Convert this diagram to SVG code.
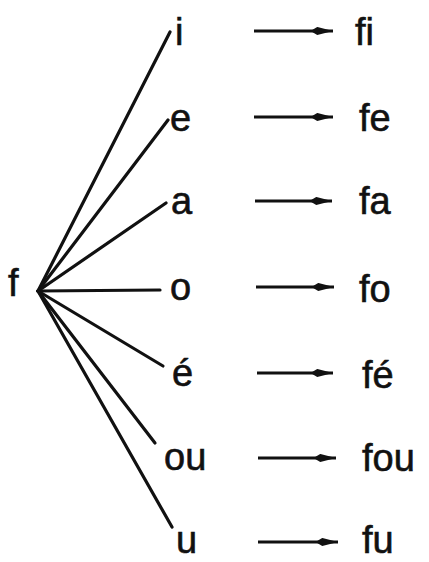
<svg xmlns="http://www.w3.org/2000/svg" width="429" height="562" viewBox="0 0 429 562">
<defs>
<marker id="ah" viewBox="0 0 10 4" refX="10" refY="2" markerWidth="8.5" markerHeight="3" markerUnits="strokeWidth" orient="auto">
<path d="M0,2 L3,0.2 L10,2 L3,3.8 Z" fill="#111"/>
</marker>
<style>
text{font-family:"Liberation Sans",Arial,sans-serif;font-size:38px;fill:#111;stroke:#111;stroke-width:0.6}
.fan line{stroke:#111;stroke-width:3.2;stroke-linecap:round}
.arr line{stroke:#111;stroke-width:3;marker-end:url(#ah)}
</style>
</defs>
<rect width="429" height="562" fill="#fff"/>
<g id="connectors">
<g class="fan">
<line x1="38" y1="291" x2="170" y2="32"/>
<line x1="38" y1="291" x2="168" y2="120"/>
<line x1="38" y1="291" x2="166" y2="203"/>
<line x1="38" y1="291" x2="160" y2="290"/>
<line x1="38" y1="291" x2="163" y2="366"/>
<line x1="38" y1="291" x2="155" y2="443"/>
<line x1="38" y1="291" x2="172" y2="527"/>
</g>
<g class="arr">
<line x1="254" y1="31" x2="333" y2="31"/>
<line x1="254" y1="117" x2="333" y2="117"/>
<line x1="255" y1="201" x2="332" y2="201"/>
<line x1="256" y1="287" x2="334" y2="287"/>
<line x1="257" y1="373" x2="333" y2="373"/>
<line x1="258" y1="458" x2="336" y2="458"/>
<line x1="258" y1="542" x2="338" y2="542"/>
</g>
</g>
<g id="n-f"><text x="8" y="296">f</text></g>
<g id="n-i"><text x="175" y="45">i</text></g>
<g id="n-e"><text x="170" y="131">e</text></g>
<g id="n-a"><text x="171" y="214">a</text></g>
<g id="n-o"><text x="170" y="300">o</text></g>
<g id="n-eacute"><text x="172" y="386">é</text></g>
<g id="n-ou"><text x="164" y="470">ou</text></g>
<g id="n-u"><text x="176" y="553">u</text></g>
<g id="n-fi"><text x="355" y="45">fi</text></g>
<g id="n-fe"><text x="359" y="131">fe</text></g>
<g id="n-fa"><text x="359" y="214">fa</text></g>
<g id="n-fo"><text x="359" y="302">fo</text></g>
<g id="n-feacute"><text x="362" y="388">fé</text></g>
<g id="n-fou"><text x="362" y="471">fou</text></g>
<g id="n-fu"><text x="362" y="553">fu</text></g>
</svg>
